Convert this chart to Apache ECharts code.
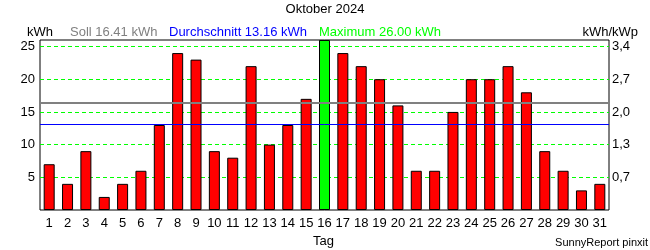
<!DOCTYPE html>
<html><head><meta charset="utf-8">
<script src="https://cdn.jsdelivr.net/npm/echarts@6/dist/echarts.min.js"></script>
<style>html,body{margin:0;padding:0;background:#fff}#c{width:650px;height:250px}</style>
</head><body><div id="c"></div>
<script>
const days = ['1','2','3','4','5','6','7','8','9','10','11','12','13','14','15','16','17','18','19','20','21','22','23','24','25','26','27','28','29','30','31'];
const values = [7,4,9,2,4,6,13,24,23,9,8,22,10,13,17,26,24,22,20,16,6,6,15,20,20,22,18,9,6,3,4];
const leftTicks = [5,10,15,20,25];
const rightTickLabels = ['0,7','1,3','2,0','2,7','3,4'];
const sollValue = 16.41;
const avgValue = 13.16;
const maxValue = 26.00;
const yMax = 26;

const FONT = '"Liberation Sans", Arial, sans-serif';
const maxIdx = values.indexOf(Math.max(...values));
const redData = values.map((v,i)=> i===maxIdx ? '-' : v);
const greenData = values.map((v,i)=> i===maxIdx ? v : '-');

const chart = echarts.init(document.getElementById('c'), null, {renderer:'canvas'});
chart.setOption({
  animation:false,
  backgroundColor:'#fff',
  textStyle:{fontFamily:FONT},
  grid:{left:40,right:41,top:40,bottom:40,show:true,borderColor:'#000',borderWidth:1,backgroundColor:'transparent'},
  xAxis:{
    type:'category', data:days,
    axisLine:{show:false}, axisTick:{show:false},
    axisLabel:{interval:0,color:'#000',fontSize:13,fontFamily:FONT,margin:7},
    splitLine:{show:false}
  },
  yAxis:[{
    type:'value', min:0, max:yMax, interval:5,
    axisLine:{show:false}, axisTick:{show:false},
    axisLabel:{color:'#000',fontSize:13,fontFamily:FONT,margin:5,
      formatter:v=> leftTicks.includes(v) ? String(v) : ''},
    splitLine:{show:true,showMinLine:false,showMaxLine:false,lineStyle:{color:'#00ff00',type:[4,3],width:1}}
  },{
    type:'value', min:0, max:yMax, interval:5, position:'right',
    axisLine:{show:false}, axisTick:{show:false},
    axisLabel:{color:'#000',fontSize:13,fontFamily:FONT,margin:3,
      formatter:v=>{const i=leftTicks.indexOf(v);return i>=0?rightTickLabels[i]:'';}},
    splitLine:{show:false}
  }],
  series:[
    {type:'bar',data:redData,barWidth:11,z:2,
     itemStyle:{color:'#ff0000',borderColor:'#000',borderWidth:1}},
    {type:'line',data:[],z:3,symbol:'none',
     markLine:{silent:true,symbol:'none',label:{show:false},
       data:[
         {yAxis:sollValue,lineStyle:{color:'#808080',width:2,type:'solid'}},
         {yAxis:avgValue,lineStyle:{color:'#0000ff',width:1,type:'solid'}}
       ]}},
    {type:'bar',data:greenData,barWidth:11,barGap:'-100%',z:4,
     itemStyle:{color:'#00ff00',borderColor:'#000',borderWidth:1}}
  ],
  graphic:[
    {type:'text',left:'center',top:3,style:{text:'Oktober 2024',fill:'#000',font:'13px '+FONT}},
    {type:'text',left:27,top:26,style:{text:'kWh',fill:'#000',font:'13px '+FONT}},
    {type:'text',left:70,top:26,style:{text:'Soll '+sollValue.toFixed(2)+' kWh',fill:'#808080',font:'13px '+FONT}},
    {type:'text',left:169,top:26,style:{text:'Durchschnitt '+avgValue.toFixed(2)+' kWh',fill:'#0000ff',font:'13px '+FONT}},
    {type:'text',left:319,top:26,style:{text:'Maximum '+maxValue.toFixed(2)+' kWh',fill:'#00ff00',font:'13px '+FONT}},
    {type:'text',right:12,top:26,style:{text:'kWh/kWp',fill:'#000',font:'13px '+FONT}},
    {type:'text',left:313,top:235,style:{text:'Tag',fill:'#000',font:'13px '+FONT}},
    {type:'text',right:2,top:237,style:{text:'SunnyReport pinxit',fill:'#000',font:'11px '+FONT}}
  ]
});
</script></body></html>
